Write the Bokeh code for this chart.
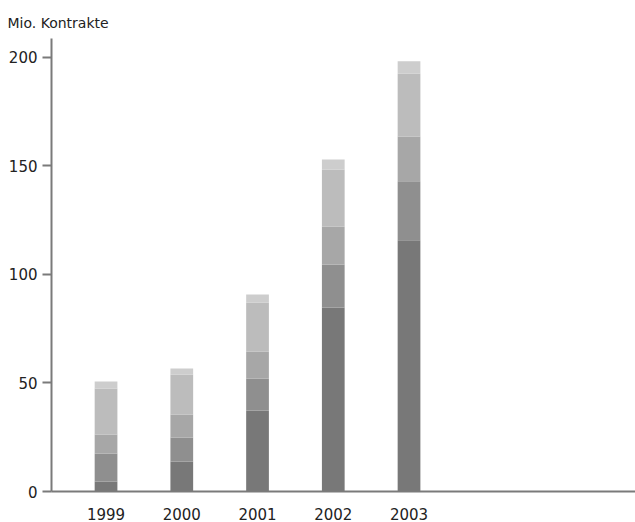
from bokeh.plotting import figure
from bokeh.models import Range1d, FixedTicker
from bokeh.embed import file_html
from bokeh.resources import INLINE

years = [1999, 2000, 2001, 2002, 2003]
seg1 = [4.6, 13.8, 37.3, 84.8, 115.7]
seg2 = [12.9, 11.1, 14.8, 19.8, 27.2]
seg3 = [8.8, 10.6, 12.4, 17.5, 20.7]
seg4 = [21.2, 18.4, 22.6, 26.3, 29.0]
seg5 = [3.2, 2.8, 3.7, 4.6, 5.6]
y_ticks = [0, 50, 100, 150, 200]
y_title = "Mio. Kontrakte"

colors = ["#787878", "#8f8f8f", "#a7a7a7", "#bcbcbc", "#cdcdcd"]
names = ["s1", "s2", "s3", "s4", "s5"]
data = dict(x=years, s1=seg1, s2=seg2, s3=seg3, s4=seg4, s5=seg5)

p = figure(width=635, height=522, output_backend="svg", toolbar_location=None,
           x_range=Range1d(1998.28, 2005.99), y_range=Range1d(0, 208.7),
           min_border_left=51, min_border_right=0, min_border_top=38, min_border_bottom=30)

p.vbar_stack(names, x="x", width=0.30, color=colors, line_color=None, source=data)

p.title.text = y_title
p.title.text_font = "DejaVu Sans"
p.title.text_font_size = "14px"
p.title.text_font_style = "normal"
p.title.text_color = "#222222"
p.title.align = "left"
p.title.offset = -44
p.title.standoff = 16

p.outline_line_color = None
p.xgrid.grid_line_color = None
p.ygrid.grid_line_color = None

axcol = "#7a7a7a"
p.yaxis.ticker = FixedTicker(ticks=y_ticks)
p.yaxis.axis_line_color = axcol
p.yaxis.axis_line_width = 2
p.yaxis.major_tick_line_color = axcol
p.yaxis.major_tick_line_width = 2
p.yaxis.major_tick_out = 9
p.yaxis.major_tick_in = 0
p.yaxis.minor_tick_line_color = None
p.yaxis.major_label_text_font = "DejaVu Sans"
p.yaxis.major_label_text_font_size = "15px"
p.yaxis.major_label_text_color = "#222222"
p.yaxis.major_label_standoff = 5

p.xaxis.ticker = FixedTicker(ticks=years)
p.xaxis.axis_line_color = axcol
p.xaxis.axis_line_width = 2
p.xaxis.major_tick_line_color = None
p.xaxis.major_tick_out = 0
p.xaxis.major_tick_in = 0
p.xaxis.minor_tick_line_color = None
p.xaxis.major_label_text_font = "DejaVu Sans"
p.xaxis.major_label_text_font_size = "15px"
p.xaxis.major_label_text_color = "#222222"
p.xaxis.major_label_standoff = 16

open("out.html", "w").write(file_html(p, INLINE))
